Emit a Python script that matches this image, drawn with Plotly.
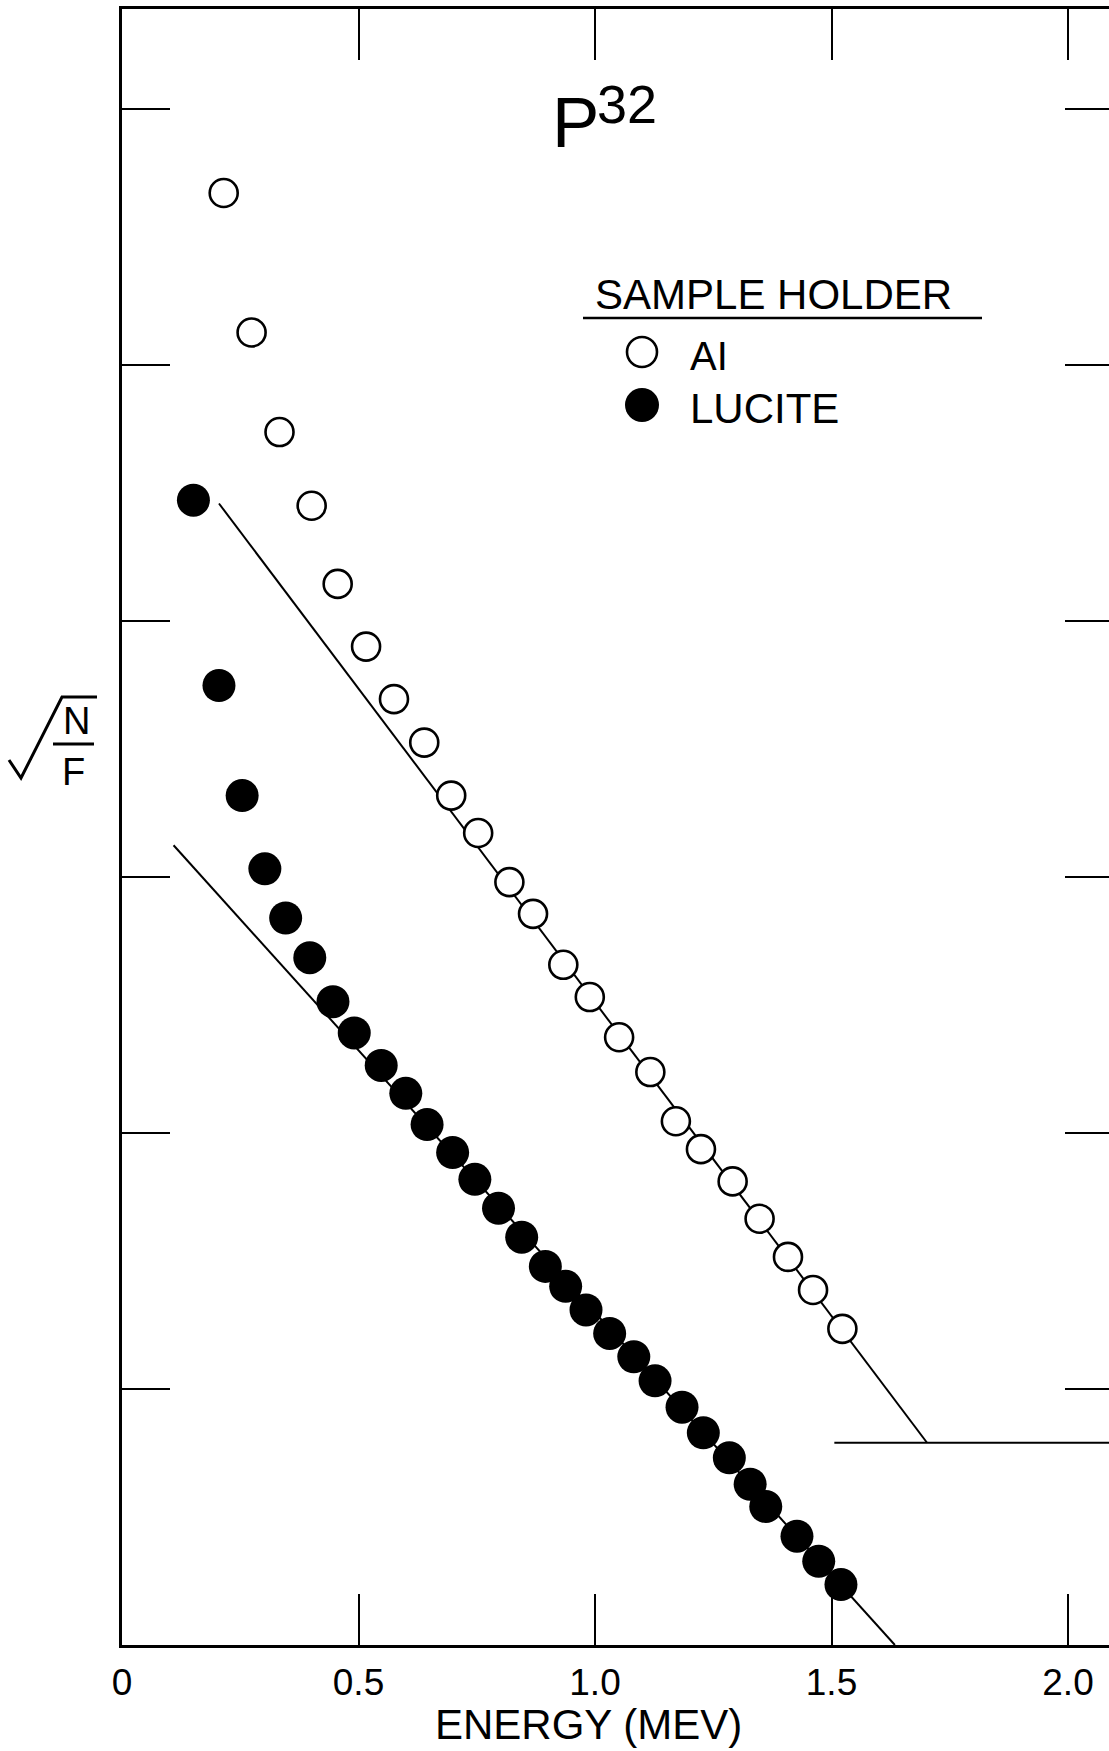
import plotly.graph_objects as go

# ---------------- data ----------------
energy_al = [0.215, 0.274, 0.333, 0.401, 0.456, 0.516, 0.575, 0.639, 0.696, 0.753,
             0.819, 0.869, 0.933, 0.989, 1.051, 1.117, 1.171, 1.224, 1.291, 1.348,
             1.408, 1.461, 1.523]
sqrt_nf_al = [5.672, 5.127, 4.738, 4.450, 4.145, 3.900, 3.695, 3.525, 3.318, 3.172,
              2.980, 2.856, 2.657, 2.531, 2.374, 2.238, 2.046, 1.937, 1.811, 1.665,
              1.516, 1.387, 1.235]

energy_lucite = [0.151, 0.205, 0.254, 0.302, 0.346, 0.397, 0.446, 0.491, 0.548, 0.600,
                 0.645, 0.699, 0.746, 0.796, 0.845, 0.895, 0.938, 0.981, 1.031, 1.082,
                 1.127, 1.184, 1.229, 1.284, 1.328, 1.361, 1.427, 1.473, 1.520]
sqrt_nf_lucite = [4.472, 3.748, 3.318, 3.032, 2.840, 2.685, 2.513, 2.391, 2.264, 2.155,
                  2.033, 1.924, 1.819, 1.706, 1.593, 1.479, 1.401, 1.309, 1.217, 1.126,
                  1.032, 0.929, 0.829, 0.731, 0.628, 0.541, 0.425, 0.327, 0.236]

al_fit_x = [0.205, 1.702]
al_fit_y = [4.459, 0.790]
al_bg_x = [1.506, 2.1]
al_bg_y = [0.790, 0.790]
lucite_fit_x = [0.109, 1.634]
lucite_fit_y = [3.124, 0.0]

x_tickvals = [0, 0.5, 1.0, 1.5, 2.0]
x_ticktext = ["0", "0.5", "1.0", "1.5", "2.0"]
y_tickvals = [0, 1, 2, 3, 4, 5, 6]

# ---------------- layout geometry ----------------
W, H = 1109, 1751
L, R, T, B = 122, 0, 9, 106
PW, PH = W - L - R, H - T - B
FONT = "Liberation Sans, Arial, sans-serif"


def px(xp):
    return (xp - L) / PW


def py(yp):
    return (H - B - yp) / PH


fig = go.Figure()

fig.add_trace(go.Scatter(x=al_fit_x, y=al_fit_y, mode="lines",
                         line=dict(color="black", width=2), hoverinfo="skip"))
fig.add_trace(go.Scatter(x=al_bg_x, y=al_bg_y, mode="lines",
                         line=dict(color="black", width=2), hoverinfo="skip"))
fig.add_trace(go.Scatter(x=lucite_fit_x, y=lucite_fit_y, mode="lines",
                         line=dict(color="black", width=2), hoverinfo="skip"))

fig.add_trace(go.Scatter(x=energy_al, y=sqrt_nf_al, mode="markers", name="AI",
                         marker=dict(symbol="circle", size=28, color="white",
                                     line=dict(color="black", width=2.6))))
fig.add_trace(go.Scatter(x=energy_lucite, y=sqrt_nf_lucite, mode="markers", name="LUCITE",
                         marker=dict(symbol="circle", size=33, color="black",
                                     line=dict(width=0))))
# empty trace to anchor the right-hand tick axis
fig.add_trace(go.Scatter(x=[], y=[], yaxis="y2", showlegend=False))

x_range = [0, PW / 473.0]
y_range = [0, PH / 256.0]

fig.update_layout(
    width=W, height=H, autosize=False,
    margin=dict(l=L, r=R, t=T, b=B, pad=0),
    paper_bgcolor="white", plot_bgcolor="white",
    showlegend=False,
    xaxis=dict(range=x_range, tickvals=x_tickvals, ticktext=x_ticktext,
               ticks="inside", ticklen=51, tickwidth=2, tickcolor="black",
               showline=True, linecolor="black", linewidth=3, mirror="ticks",
               showgrid=False, zeroline=False,
               tickfont=dict(family=FONT, size=37, color="black"),
               ticklabelstandoff=3),
    yaxis=dict(range=y_range, tickvals=y_tickvals, showticklabels=False,
               ticks="inside", ticklen=48, tickwidth=2, tickcolor="black",
               showline=True, linecolor="black", linewidth=3, mirror=False,
               showgrid=False, zeroline=False),
    yaxis2=dict(range=y_range, overlaying="y", side="right", tickvals=y_tickvals,
                showticklabels=False, ticks="inside", ticklen=44, tickwidth=2,
                tickcolor="black", showline=False, showgrid=False, zeroline=False),
)

annotations = [
    dict(text="ENERGY (MEV)", x=px(588), y=py(1724), xanchor="center", yanchor="middle",
         font=dict(family=FONT, size=42, color="black")),
    dict(text="P", x=px(575), y=py(122), xanchor="center", yanchor="middle",
         font=dict(family=FONT, size=71, color="black")),
    dict(text="32", x=px(627), y=py(104), xanchor="center", yanchor="middle",
         font=dict(family=FONT, size=54, color="black")),
    dict(text="SAMPLE HOLDER", x=px(593), y=py(294), xanchor="left", yanchor="middle",
         font=dict(family=FONT, size=42, color="black")),
    dict(text="AI", x=px(688), y=py(356), xanchor="left", yanchor="middle",
         font=dict(family=FONT, size=40, color="black")),
    dict(text="LUCITE", x=px(688), y=py(408), xanchor="left", yanchor="middle",
         font=dict(family=FONT, size=42, color="black")),
    dict(text="N", x=px(76), y=py(721), xanchor="center", yanchor="middle",
         font=dict(family=FONT, size=38, color="black")),
    dict(text="F", x=px(73), y=py(772), xanchor="center", yanchor="middle",
         font=dict(family=FONT, size=38, color="black")),
]
for a in annotations:
    a.update(xref="paper", yref="paper", showarrow=False)
fig.update_layout(annotations=annotations)

shapes = [
    # legend title underline
    dict(type="line", x0=px(583), x1=px(982), y0=py(318), y1=py(318),
         line=dict(color="black", width=2.5)),
    # legend symbols
    dict(type="circle", x0=px(627), x1=px(657), y0=py(337), y1=py(367),
         line=dict(color="black", width=2.6), fillcolor="white"),
    dict(type="circle", x0=px(625), x1=px(659), y0=py(388), y1=py(422),
         line=dict(width=0), fillcolor="black"),
    # y-axis label: radical sign and fraction bar
    dict(type="path",
         path=f"M {px(9)},{py(760)} L {px(21)},{py(778)} L {px(62)},{py(697)} L {px(97)},{py(697)}",
         line=dict(color="black", width=3)),
    dict(type="line", x0=px(53), x1=px(94), y0=py(744), y1=py(744),
         line=dict(color="black", width=3)),
]
for s in shapes:
    s.update(xref="paper", yref="paper")
fig.update_layout(shapes=shapes)

fig.write_html("out.html")
